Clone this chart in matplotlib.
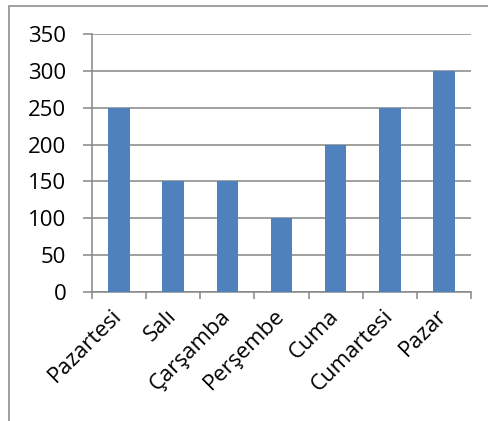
import matplotlib
matplotlib.use("Agg")
import matplotlib.pyplot as plt
from matplotlib.patches import Rectangle
from matplotlib.ticker import FixedLocator, NullFormatter

days = ["Pazartesi", "Salı", "Çarşamba", "Perşembe", "Cuma", "Cumartesi", "Pazar"]
values = [250, 150, 150, 100, 200, 250, 300]
y_ticks = [0, 50, 100, 150, 200, 250, 300, 350]

W, H = 488, 421
grey = "#868686"
bar_color = "#4F81BD"
fs = 16

plt.rcParams["font.family"] = ["Open Sans", "DejaVu Sans"]

fig = plt.figure(figsize=(W / 100, H / 100), dpi=100)
ax = fig.add_axes([92 / W, 1 - 292 / H, (471 - 92) / W, (292 - 34) / H])

x = list(range(len(days)))
ax.bar(x, values, width=0.4, color=bar_color, zorder=3)

ax.set_xlim(-0.5, len(days) - 0.5)
ax.set_ylim(0, 350)
ax.set_yticks(y_ticks)
ax.set_yticklabels([str(v) for v in y_ticks], fontsize=fs)
ax.yaxis.grid(True, color=grey, linewidth=1.1, zorder=0)
ax.tick_params(axis="y", direction="out", length=6.5, width=1.1, color=grey, pad=12)

# category boundary ticks on the x axis
ax.xaxis.set_major_locator(FixedLocator([i - 0.5 for i in range(len(days) + 1)]))
ax.xaxis.set_major_formatter(NullFormatter())
ax.tick_params(axis="x", direction="out", length=5, width=1.1, color=grey)

for i, d in enumerate(days):
    ax.annotate(d, xy=(i, 0), xycoords=("data", "axes fraction"),
                xytext=(0, -15), textcoords="offset points",
                rotation=45, ha="right", va="center", rotation_mode="anchor",
                fontsize=fs)

for side in ("top", "right"):
    ax.spines[side].set_visible(False)
for side in ("left", "bottom"):
    ax.spines[side].set_color(grey)
    ax.spines[side].set_linewidth(1.1)

# outer chart frame
fig.patches.append(Rectangle((8.5 / W, -0.1), 1.2, 1 - 5.5 / H + 0.1,
                             transform=fig.transFigure, fill=False,
                             edgecolor=grey, linewidth=1.1))

fig.savefig("out.png", dpi=100)
